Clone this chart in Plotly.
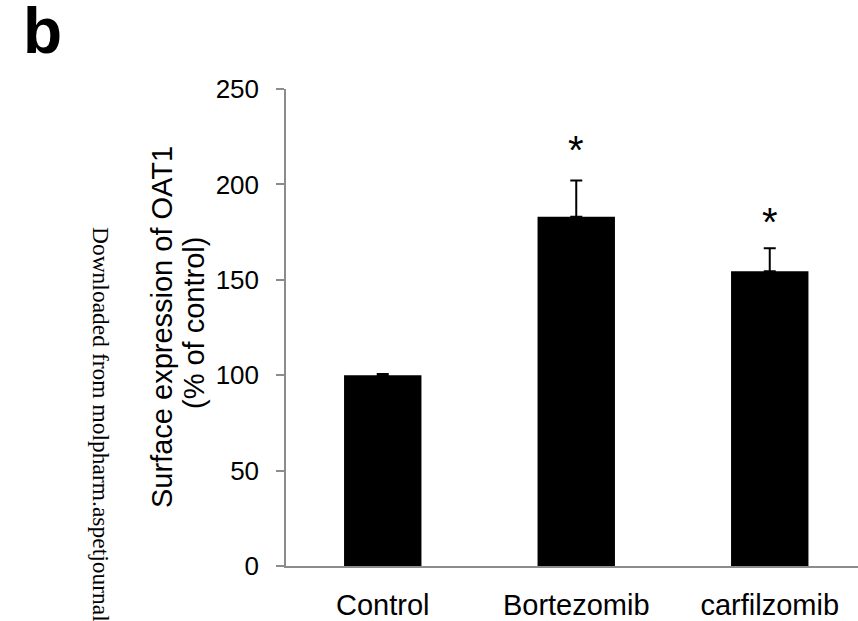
import plotly.graph_objects as go

categories = ["Control", "Bortezomib", "carfilzomib"]
values = [100, 183, 154.5]
errors_plus = [0.6, 19, 12]
stars = ["", "*", "*"]
star_levels = [None, 220.8, 182.7]
y_ticks = [0, 50, 100, 150, 200, 250]
y_title_lines = ["Surface expression of OAT1", "(% of control)"]

W, H = 858, 621
L, R, T, B = 286, 0, 89, 53
PW, PH = W - L - R, H - T - B


def px_x(px):
    return (px - L) / PW


def px_y(py):
    return (H - B - py) / PH


fig = go.Figure()
fig.add_trace(go.Bar(
    x=categories, y=values,
    marker=dict(color="black", line=dict(width=0)),
    width=0.4,
    error_y=dict(type="data", symmetric=False, array=errors_plus,
                 arrayminus=[0] * len(values), color="black",
                 thickness=2, width=6),
    showlegend=False,
))

for c, s, lvl in zip(categories, stars, star_levels):
    if s:
        fig.add_annotation(x=c, y=lvl, text=s, showarrow=False,
                           yanchor="middle", yshift=-5,
                           font=dict(family="Arial, Liberation Sans", size=40, color="black"))

# y-axis title (two lines, rotated)
for line, cx, cy in zip(y_title_lines, [161.5, 194], [328.5, 324]):
    fig.add_annotation(xref="paper", yref="paper", x=px_x(cx), y=px_y(cy),
                       text=line, textangle=-90, showarrow=False,
                       xanchor="center", yanchor="middle",
                       font=dict(family="Arial, Liberation Sans", size=29, color="black"))

fig.add_annotation(xref="paper", yref="paper", x=px_x(21), y=px_y(-7),
                   text="<b>b</b>", showarrow=False, xanchor="left", yanchor="top",
                   font=dict(family="Arial, Liberation Sans", size=64, color="black"))

fig.add_annotation(xref="paper", yref="paper", x=px_x(101), y=px_y(225),
                   text="Downloaded from molpharm.aspetjournals.org", textangle=90,
                   showarrow=False, xanchor="center", yanchor="top",
                   font=dict(family="Liberation Serif, Times New Roman", size=23.5, color="black"))

fig.update_layout(
    width=W, height=H,
    margin=dict(l=L, r=R, t=T, b=B, pad=0),
    plot_bgcolor="white", paper_bgcolor="white",
    font=dict(family="Arial, Liberation Sans", color="black"),
    bargap=0.6,
)
fig.update_xaxes(
    range=[-0.5, -0.5 + PW / 193.5],
    showline=True, linecolor="#8c8c8c", linewidth=1.5,
    ticks="", showgrid=False, zeroline=False,
    tickfont=dict(size=29, color="black"),
    ticklabelstandoff=12,
)
fig.update_yaxes(
    range=[0, 250], tickvals=y_ticks,
    showline=True, linecolor="#8c8c8c", linewidth=1.5,
    ticks="outside", ticklen=8, tickcolor="#8c8c8c", tickwidth=1.5,
    showgrid=False, zeroline=False,
    tickfont=dict(size=26, color="black"),
    ticklabelstandoff=12,
)

fig.write_html("out.html", config={"displayModeBar": False},
               post_script="document.body.style.margin='0';")
